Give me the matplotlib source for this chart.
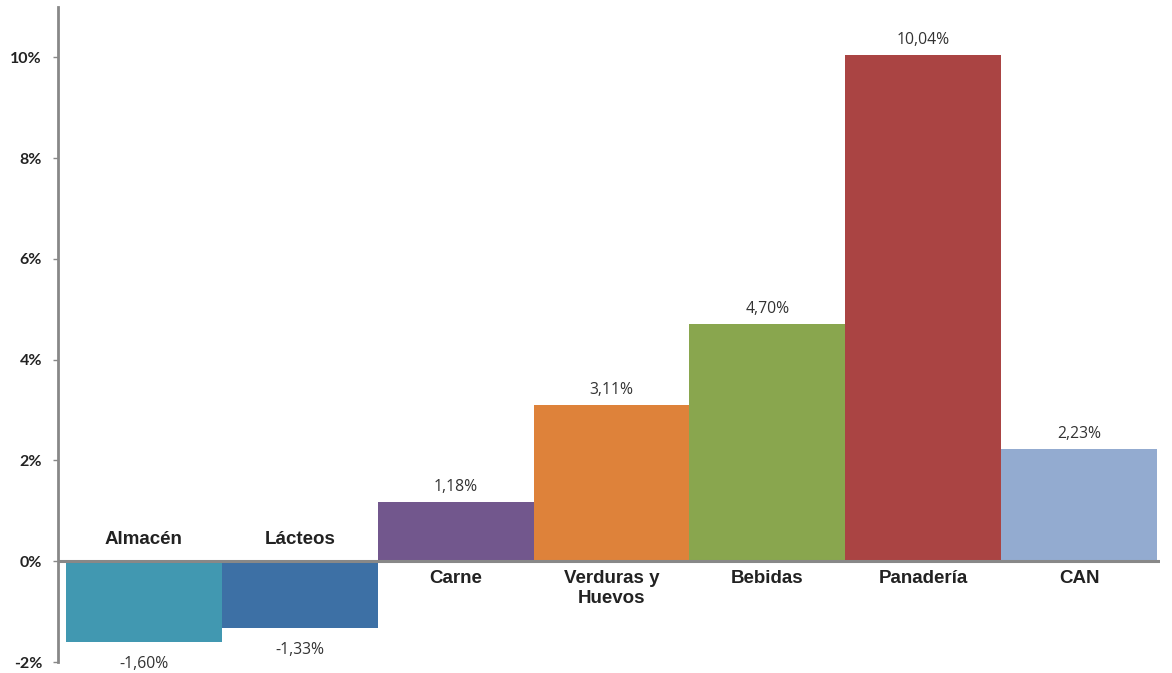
import matplotlib.pyplot as plt

# Datos: variación por rubro
categorias = ['Almacén', 'Lácteos', 'Carne', 'Verduras y\nHuevos', 'Bebidas', 'Panadería', 'CAN']
valores = [-1.60, -1.33, 1.18, 3.11, 4.70, 10.04, 2.23]
colores = ['#4198B1', '#3D70A5', '#72578D', '#DE823A', '#89A64E', '#AA4443', '#93ABD0']
ticks_y = [-2, 0, 2, 4, 6, 8, 10]

fig = plt.figure(figsize=(11.72, 6.73), dpi=100)
ax = fig.add_axes([0.0495, 0.0163, 0.9403, 0.9733])

x = list(range(len(categorias)))
ax.bar(x, valores, width=1.0, color=colores, zorder=2)

ax.set_xlim(-0.551, 6.52)
ax.set_ylim(-2, 11)

# linea de cero
ax.axhline(0, color='#888888', lw=2.2, zorder=3)

for s in ['top', 'right', 'bottom']:
    ax.spines[s].set_visible(False)
ax.spines['left'].set_color('#888888')
ax.spines['left'].set_linewidth(2)
ax.set_xticks([])
ax.set_yticks(ticks_y)
ax.set_yticklabels([f'{t}%' for t in ticks_y], fontfamily='Lato', fontweight='bold',
                   fontsize=11.5, color='#222222')
ax.tick_params(axis='y', length=3.5, width=1, color='#888888', pad=8)

for xi, v, cat in zip(x, valores, categorias):
    etiqueta = f'{v:.2f}%'.replace('.', ',')
    if v < 0:
        ax.annotate(etiqueta, (xi, v), xytext=(0, -10), textcoords='offset points',
                    ha='center', va='top', fontfamily='Open Sans', fontsize=11.3, color='#333333')
        ax.annotate(cat, (xi, 0), xytext=(0, 16), textcoords='offset points',
                    ha='center', va='center', fontfamily='Liberation Sans', fontweight='bold',
                    fontsize=13.5, color='#222222')
    else:
        ax.annotate(etiqueta, (xi, v), xytext=(0, 5), textcoords='offset points',
                    ha='center', va='bottom', fontfamily='Open Sans', fontsize=11.3, color='#333333')
        ax.annotate(cat, (xi, 0), xytext=(0, -6), textcoords='offset points',
                    ha='center', va='top', fontfamily='Liberation Sans', fontweight='bold',
                    fontsize=13.5, color='#222222', linespacing=1.3)

fig.savefig('out.png', dpi=100)
